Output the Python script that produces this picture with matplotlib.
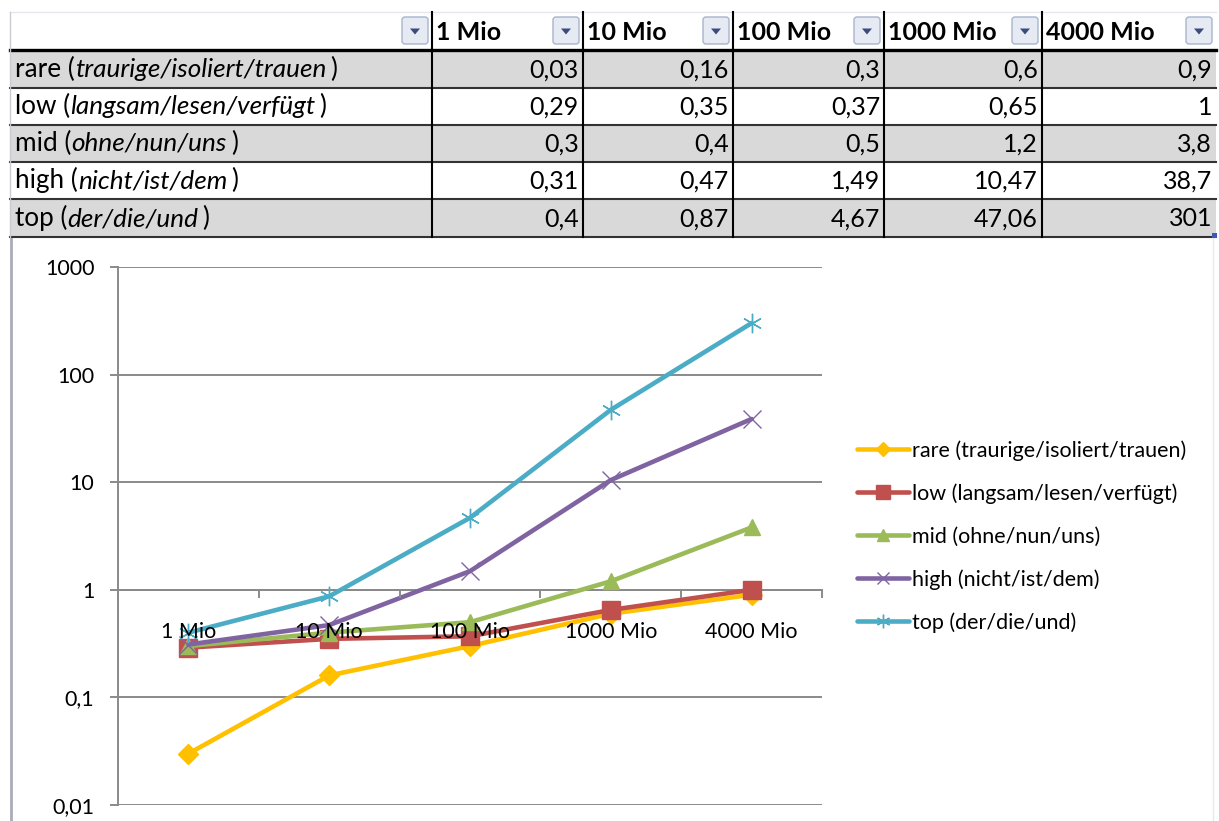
import matplotlib
matplotlib.use("Agg")
import matplotlib.pyplot as plt
import numpy as np
from matplotlib.patches import Rectangle, FancyBboxPatch, Polygon
from matplotlib.ticker import FixedLocator, FuncFormatter, NullFormatter, NullLocator

# ---- data -------------------------------------------------------------
sizes = ["1 Mio", "10 Mio", "100 Mio", "1000 Mio", "4000 Mio"]
classes = ["rare", "low", "mid", "high", "top"]
examples = ["traurige/isoliert/trauen", "langsam/lesen/verfügt",
            "ohne/nun/uns", "nicht/ist/dem", "der/die/und"]
rare = [0.03, 0.16, 0.3, 0.6, 0.9]
low = [0.29, 0.35, 0.37, 0.65, 1]
mid = [0.3, 0.4, 0.5, 1.2, 3.8]
high = [0.31, 0.47, 1.49, 10.47, 38.7]
top = [0.4, 0.87, 4.67, 47.06, 301]
y_ticks = [0.01, 0.1, 1, 10, 100, 1000]

series = [rare, low, mid, high, top]
colors = ["#FFC000", "#C0504D", "#9BBB59", "#8064A2", "#4BACC6"]
markers = ["D", "s", "^", "x", (6, 2, 0)]
msizes = [10, 13.5, 12, 13, 14]

FONT = "Lato"
plt.rcParams["font.family"] = [FONT, "DejaVu Sans"]


def de(v):
    """German number format with decimal comma."""
    return f"{v:g}".replace(".", ",")


W, H = 1219, 821
fig = plt.figure(figsize=(W / 100, H / 100), dpi=100)
fig.patch.set_facecolor("white")

# full-figure canvas in pixel units for the spreadsheet table
bg = fig.add_axes([0, 0, 1, 1])
bg.set_xlim(0, W)
bg.set_ylim(H, 0)
bg.axis("off")

col_x = [10, 432, 583, 733, 884, 1042, 1216]
row_y = [12, 50, 88, 125, 162, 199, 237]
text_fs = 18
label_fs = 18.8

# row backgrounds
for r in range(len(classes)):
    fill = "#D9D9D9" if r % 2 == 0 else "white"
    bg.add_patch(Rectangle((col_x[0], row_y[r + 1]), col_x[-1] - col_x[0],
                           row_y[r + 2] - row_y[r + 1], facecolor=fill,
                           edgecolor="none", zorder=1))

# horizontal rules
bg.plot([col_x[0], col_x[-1]], [row_y[0], row_y[0]], color="#E4E8EE", lw=1, zorder=2)
bg.plot([col_x[0], col_x[-1]], [row_y[1], row_y[1]], color="black", lw=2.4, zorder=3)
for y in row_y[2:]:
    bg.plot([col_x[0], col_x[-1]], [y, y], color="#333333", lw=1.5, zorder=3)
# vertical rules
for x in col_x[1:-1]:
    bg.plot([x, x], [row_y[0], row_y[-1]], color="black", lw=1.5, zorder=3)
bg.plot([col_x[0], col_x[0]], [row_y[0], row_y[-1]], color="#C8CCD2", lw=1, zorder=3)

# header texts and filter buttons
for c in range(len(col_x) - 1):
    if c > 0:
        bg.text(col_x[c] + 4, (row_y[0] + row_y[1]) / 2 + 2, sizes[c - 1],
                fontsize=text_fs, fontweight="bold", ha="left", va="center",
                color="black", zorder=4)
    bx1 = col_x[c + 1] - 4
    bx0 = bx1 - 26
    by0, by1 = 17, 44
    bg.add_patch(FancyBboxPatch((bx0, by0), bx1 - bx0, by1 - by0,
                                boxstyle="round,pad=0,rounding_size=3",
                                facecolor="#E6EBF3", edgecolor="#A7B4CA",
                                lw=1.0, zorder=4))
    cx, cy = (bx0 + bx1) / 2, (by0 + by1) / 2 + 1
    bg.add_patch(Polygon([[cx - 5, cy - 3], [cx + 5, cy - 3], [cx, cy + 3]],
                         closed=True, facecolor="#3C4B7C", edgecolor="none", zorder=5))

# body cells: label = regular class name + italic examples, on a shared baseline
for r, (cls, ex, vals) in enumerate(zip(classes, examples, series)):
    yc = (row_y[r + 1] + row_y[r + 2]) / 2 + 1
    yb = row_y[r + 2] - 11
    t1 = bg.text(col_x[0] + 5, yb, f"{cls} (", fontsize=label_fs,
                 ha="left", va="baseline", color="black", zorder=4)
    t2 = bg.annotate(ex, xy=(1, yb), xycoords=(t1, "data"), fontsize=label_fs,
                     style="italic", ha="left", va="baseline", color="black", zorder=4)
    bg.annotate(")", xy=(1, yb), xycoords=(t2, "data"), xytext=(3, 0),
                textcoords="offset points", fontsize=label_fs,
                ha="left", va="baseline", color="black", zorder=4)
    for c, v in enumerate(vals):
        bg.text(col_x[c + 2] - 4, yc, de(v), fontsize=text_fs, ha="right",
                va="center", color="black", zorder=4)

# small fill handle at the table corner
bg.add_patch(Rectangle((col_x[-1] - 4, row_y[-1] - 4), 5, 5,
                       facecolor="#3C5BB8", edgecolor="none", zorder=6))

# chart frame
bg.plot([11, 11], [row_y[-1] + 1, H], color="#A9ADB5", lw=2, zorder=1)
bg.plot([1213, 1213], [row_y[-1] + 1, H], color="#E8E8E8", lw=1, zorder=1)

# ---- chart --------------------------------------------------------------
L, R, T, B = 118, 822, 267, 805
ax = fig.add_axes([L / W, 1 - B / H, (R - L) / W, (B - T) / H])
ax.set_facecolor("none")
x = np.arange(len(sizes))

for cls, ex, vals, col, mk, ms in zip(classes, examples, series, colors, markers, msizes):
    ax.plot(x, vals, color=col, lw=3.3, marker=mk, ms=ms,
            mfc=col, mec=col, mew=1.0,
            label=f"{cls} ({ex})", clip_on=False, zorder=3,
            solid_capstyle="round", solid_joinstyle="round")

ax.set_yscale("log")
ax.set_ylim(min(y_ticks), max(y_ticks))
ax.set_xlim(-0.5, len(sizes) - 0.5)

gray = "#8A8A8A"
for s in ("top", "right"):
    ax.spines[s].set_visible(False)
ax.spines["left"].set_color(gray)
ax.spines["left"].set_linewidth(1.4)
ax.spines["bottom"].set_position(("data", 1))
ax.spines["bottom"].set_color(gray)
ax.spines["bottom"].set_linewidth(1.4)

ax.yaxis.set_major_locator(FixedLocator(y_ticks))
ax.yaxis.set_minor_locator(NullLocator())
ax.yaxis.set_major_formatter(FuncFormatter(lambda v, p: de(v)))
ax.tick_params(axis="y", which="major", direction="out", length=6, width=1.4,
               color=gray, labelsize=15.5, pad=11, labelcolor="black")
ax.yaxis.grid(True, color=gray, lw=1.4)
ax.set_axisbelow(True)

ax.xaxis.set_major_locator(FixedLocator(np.arange(len(sizes) + 1) - 0.5))
ax.xaxis.set_major_formatter(NullFormatter())
ax.xaxis.set_minor_locator(FixedLocator(x))
ax.set_xticklabels(sizes, minor=True)
ax.tick_params(axis="x", which="major", direction="out", length=6, width=1.4, color=gray)
ax.tick_params(axis="x", which="minor", length=0, labelsize=15.5, pad=23, labelcolor="black")
ax.xaxis.set_zorder(5)

leg = ax.legend(loc="center left", bbox_to_anchor=(857 / W, 1 - 536.5 / H),
                bbox_transform=fig.transFigure, frameon=False, fontsize=15.5,
                handlelength=2.4, handletextpad=0.14, labelspacing=1.05,
                borderpad=0, borderaxespad=0, numpoints=1, markerscale=0.7)

fig.savefig("out.png", dpi=100, facecolor="white")
